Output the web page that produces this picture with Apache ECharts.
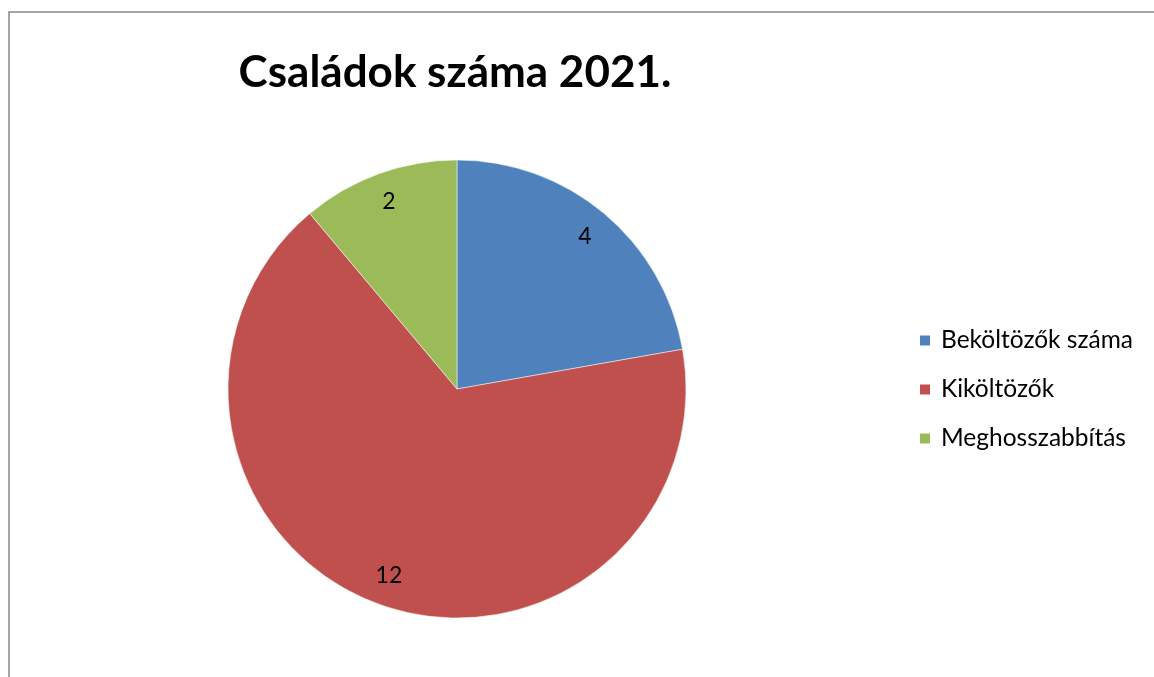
<!DOCTYPE html>
<html>
<head>
<meta charset="utf-8">
<script src="https://cdn.jsdelivr.net/npm/echarts@6/dist/echarts.min.js"></script>
<style>
  html, body { margin: 0; padding: 0; background: #fff; }
  #chart { width: 1154px; height: 677px; }
</style>
</head>
<body>
<div id="chart"></div>
<script>
const titleText = 'Családok száma 2021.';
const categories = ['Beköltözők száma', 'Kiköltözők', 'Meghosszabbítás'];
const values = [4, 12, 2];
const colors = ['#4F81BD', '#C0504D', '#9BBB59'];

const font = 'Lato, "Liberation Sans", sans-serif';

const chart = echarts.init(document.getElementById('chart'));

const pieData = categories.map((name, i) => ({
  name: name,
  value: values[i],
  itemStyle: { color: colors[i] }
}));

// label ring: same slices, transparent, so inside labels sit near the rim
const labelData = values.map((v) => ({
  value: v,
  itemStyle: { color: 'rgba(0,0,0,0)' }
}));

const option = {
  animation: false,
  title: {
    text: titleText,
    left: 450,
    top: 46,
    textAlign: 'center',
    textStyle: {
      fontFamily: font,
      fontSize: 44,
      fontWeight: 'bold',
      color: '#000'
    }
  },
  legend: {
    orient: 'vertical',
    left: 918,
    top: 328,
    padding: 0,
    data: categories,
    itemWidth: 12,
    itemHeight: 12,
    itemGap: 24,
    icon: 'rect',
    textStyle: { fontFamily: font, fontSize: 24.5, color: '#000', padding: [0, 0, 0, 5] }
  },
  graphic: [{
    type: 'rect',
    silent: true,
    shape: { x: 9, y: 12, width: 1200, height: 700 },
    style: { fill: 'none', stroke: '#868686', lineWidth: 1.5 }
  }],
  series: [
    {
      type: 'pie',
      center: [457, 389],
      radius: [0, 229],
      startAngle: 90,
      clockwise: true,
      label: { show: false },
      labelLine: { show: false },
      itemStyle: { borderColor: '#fff', borderWidth: 0.5 },
      emphasis: { disabled: true },
      data: pieData
    },
    {
      type: 'pie',
      silent: true,
      center: [457, 389],
      radius: [163, 229],
      startAngle: 90,
      clockwise: true,
      label: {
        show: true,
        position: 'inside',
        formatter: '{c}',
        fontFamily: font,
        fontSize: 23,
        color: '#000'
      },
      labelLine: { show: false },
      emphasis: { disabled: true },
      data: labelData
    }
  ]
};

chart.setOption(option);
</script>
</body>
</html>
